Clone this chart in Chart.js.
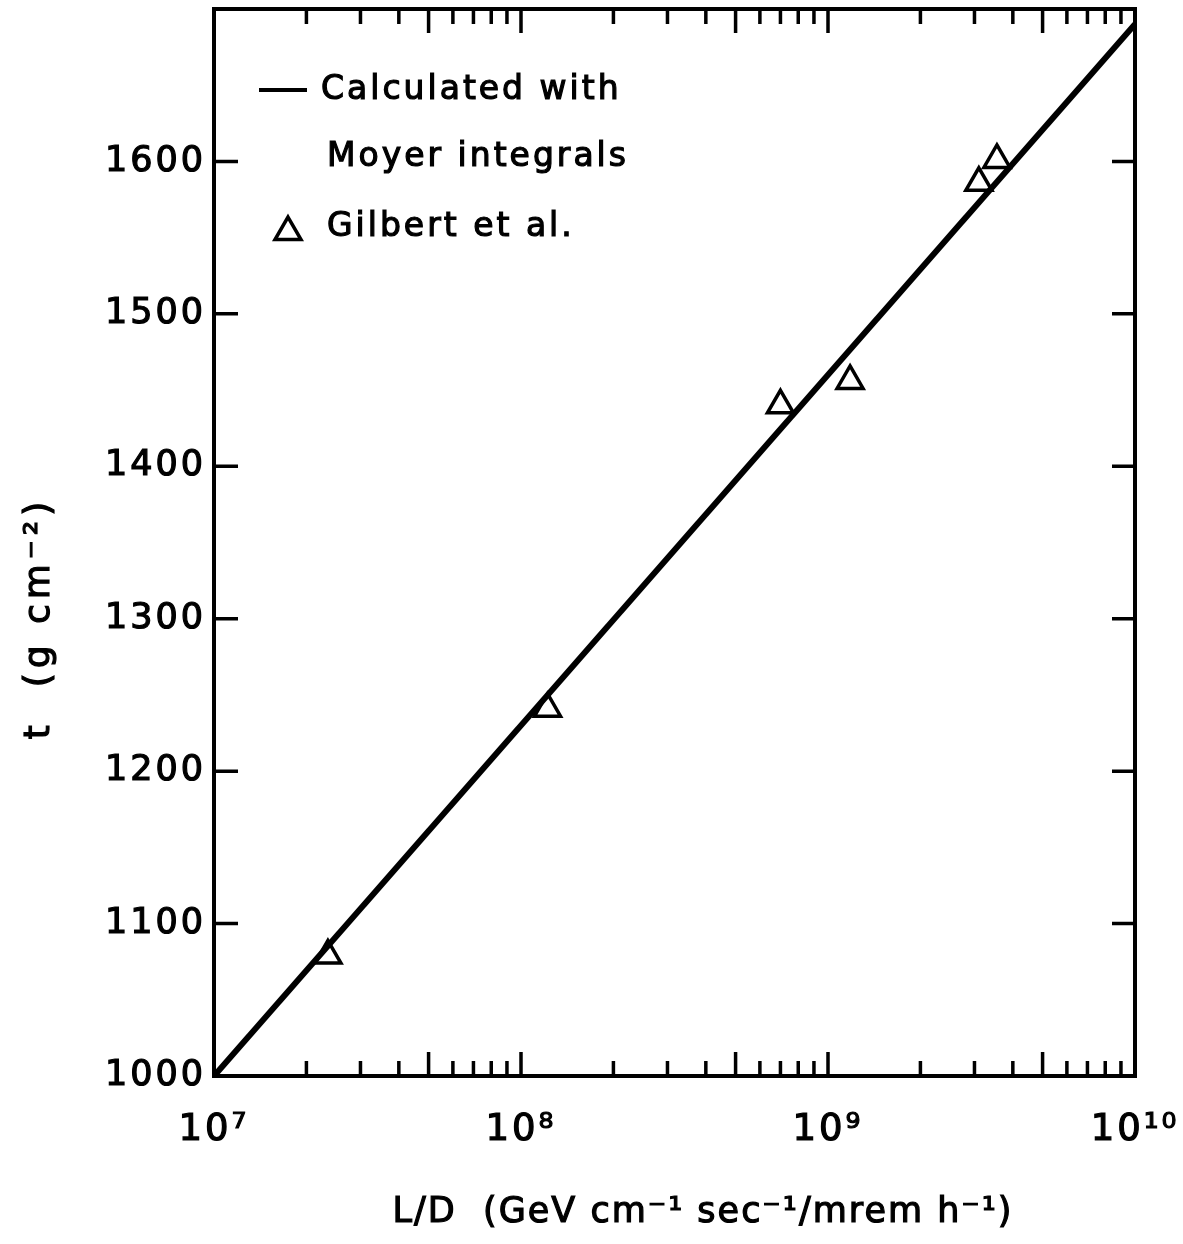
<!DOCTYPE html>
<html>
<head>
<meta charset="utf-8">
<script src="https://cdn.jsdelivr.net/npm/chart.js@4/dist/chart.umd.min.js"></script>
<style>
  html, body { margin: 0; padding: 0; background: #fff; }
  canvas { display: block; }
</style>
</head>
<body>
<canvas id="chart1" width="1183" height="1244"></canvas>
<script>
// calculated curve (Moyer integrals) - straight line on log x
var fitX = [1e7, 1e10];
var fitT = [1000, 1690];

// Gilbert et al. points
var gilbertX = [2.35e7, 1.22e8, 7.0e8, 1.18e9, 3.1e9, 3.55e9];
var gilbertT = [1079, 1241, 1440, 1456, 1586, 1601];

// axis ticks
var xDecades = [1e7, 1e8, 1e9, 1e10];
var xMinor = [1, 2, 3, 4, 5, 6, 7, 8, 9];
var yTicks = [1000, 1100, 1200, 1300, 1400, 1500, 1600];

var legendLabels = ['Calculated with', 'Moyer integrals', 'Gilbert et al.'];
var xTitle = 'L/D  (GeV cm\u207B\u00B9 sec\u207B\u00B9/mrem h\u207B\u00B9)';
var yTitle = 't  (g cm\u207B\u00B2)';

var FONT = '"DejaVu Sans", sans-serif';
var SUP = {'0': '\u2070', '1': '\u00B9', '2': '\u00B2', '3': '\u00B3', '4': '\u2074',
           '5': '\u2075', '6': '\u2076', '7': '\u2077', '8': '\u2078', '9': '\u2079'};

function sup(n) {
  return String(n).split('').map(function (c) { return SUP[c]; }).join('');
}

function toPoints(xs, ys) {
  return xs.map(function (x, i) { return {x: x, y: ys[i]}; });
}

function noPad(scale) {
  scale.paddingLeft = 0;
  scale.paddingRight = 0;
  scale.paddingTop = 0;
  scale.paddingBottom = 0;
}

function heavyText(ctx, s, x, y) {
  ctx.fillText(s, x, y);
  ctx.strokeText(s, x, y);
}

var framePlugin = {
  id: 'frame',
  beforeDraw: function (chart) {
    var ctx = chart.ctx;
    ctx.save();
    ctx.fillStyle = '#fff';
    ctx.fillRect(0, 0, chart.width, chart.height);
    ctx.restore();
    // wider lettering for the tick labels too
    ctx.letterSpacing = '3px';
  },
  afterDraw: function (chart) {
    var ctx = chart.ctx, a = chart.chartArea;
    var xs = chart.scales.x, ys = chart.scales.y;
    ctx.save();
    ctx.strokeStyle = '#000';
    ctx.lineWidth = 4;
    ctx.strokeRect(a.left, a.top, a.right - a.left, a.bottom - a.top);

    // inward ticks, bottom and top
    ctx.lineWidth = 3.5;
    ctx.beginPath();
    xDecades.forEach(function (d) {
      xMinor.forEach(function (m) {
        var v = d * m;
        if (v <= 1e7 || v >= 1e10) return;
        var px = xs.getPixelForValue(v);
        var len = (m === 1 || m === 5) ? 24 : 15;
        ctx.moveTo(px, a.bottom);
        ctx.lineTo(px, a.bottom - len);
        ctx.moveTo(px, a.top);
        ctx.lineTo(px, a.top + len);
      });
    });
    // inward ticks, left and right
    yTicks.forEach(function (v) {
      if (v === 1000) return;
      var py = ys.getPixelForValue(v);
      ctx.moveTo(a.left, py);
      ctx.lineTo(a.left + 24, py);
      ctx.moveTo(a.right, py);
      ctx.lineTo(a.right - 23, py);
    });
    ctx.stroke();

    // legend
    ctx.fillStyle = '#000';
    ctx.font = '33px ' + FONT;
    ctx.letterSpacing = '3px';
    ctx.textBaseline = 'middle';
    ctx.textAlign = 'left';
    var lx = a.left + 45, ly = a.top + 81;
    ctx.lineWidth = 4;
    ctx.beginPath();
    ctx.moveTo(lx, ly);
    ctx.lineTo(lx + 48, ly);
    ctx.stroke();
    ctx.lineWidth = 1.2;
    heavyText(ctx, legendLabels[0], lx + 62, ly);
    heavyText(ctx, legendLabels[1], lx + 68, ly + 67);
    heavyText(ctx, legendLabels[2], lx + 68, ly + 137);
    var tx = lx + 29, ty = ly + 142, r = 15;
    ctx.lineWidth = 3.5;
    ctx.beginPath();
    ctx.moveTo(tx, ty - r);
    ctx.lineTo(tx + r * Math.sin(Math.PI / 3), ty + r / 2);
    ctx.lineTo(tx - r * Math.sin(Math.PI / 3), ty + r / 2);
    ctx.closePath();
    ctx.stroke();

    // axis titles
    ctx.lineWidth = 1.2;
    ctx.font = '35px ' + FONT;
    ctx.letterSpacing = '2px';
    ctx.textAlign = 'center';
    heavyText(ctx, xTitle, 703, 1213);
    ctx.translate(40, 618);
    ctx.rotate(-Math.PI / 2);
    ctx.font = '36px ' + FONT;
    ctx.letterSpacing = '5px';
    heavyText(ctx, yTitle, 0, 0);
    ctx.restore();
  }
};

new Chart(document.querySelector('#chart1'), {
  data: {
    datasets: [{
      type: 'line',
      label: 'Calculated with Moyer integrals',
      data: toPoints(fitX, fitT),
      borderColor: '#000',
      borderWidth: 6,
      pointRadius: 0,
      fill: false
    }, {
      type: 'scatter',
      label: 'Gilbert et al.',
      data: toPoints(gilbertX, gilbertT),
      pointStyle: 'triangle',
      pointRadius: 15,
      pointHoverRadius: 15,
      borderColor: '#000',
      borderWidth: 3.5,
      backgroundColor: 'rgba(0,0,0,0)'
    }]
  },
  options: {
    responsive: false,
    animation: false,
    layout: { autoPadding: false, padding: { left: 0, right: 48, top: 9, bottom: 0 } },
    plugins: {
      legend: { display: false },
      tooltip: { enabled: false }
    },
    scales: {
      x: {
        type: 'logarithmic',
        min: 1e7,
        max: 1e10,
        grid: { display: false, drawTicks: false },
        border: { display: false },
        afterBuildTicks: function (scale) {
          scale.ticks = xDecades.map(function (v) { return {value: v}; });
        },
        afterFit: function (scale) { scale.height = 168; noPad(scale); },
        ticks: {
          autoSkip: false,
          maxRotation: 0,
          padding: 32,
          color: '#000',
          textStrokeColor: '#000',
          textStrokeWidth: 1.2,
          font: { family: FONT, size: 37 },
          callback: function (v) { return '10' + sup(Math.round(Math.log10(v))); }
        }
      },
      y: {
        min: 1000,
        max: 1700,
        grid: { display: false, drawTicks: false },
        border: { display: false },
        afterBuildTicks: function (scale) {
          scale.ticks = yTicks.map(function (v) { return {value: v}; });
        },
        afterFit: function (scale) { scale.width = 214; noPad(scale); },
        ticks: {
          padding: 8,
          color: '#000',
          textStrokeColor: '#000',
          textStrokeWidth: 1.2,
          font: { family: FONT, size: 35 },
          callback: function (v) { return String(v); }
        }
      }
    }
  },
  plugins: [framePlugin]
});
</script>
</body>
</html>
